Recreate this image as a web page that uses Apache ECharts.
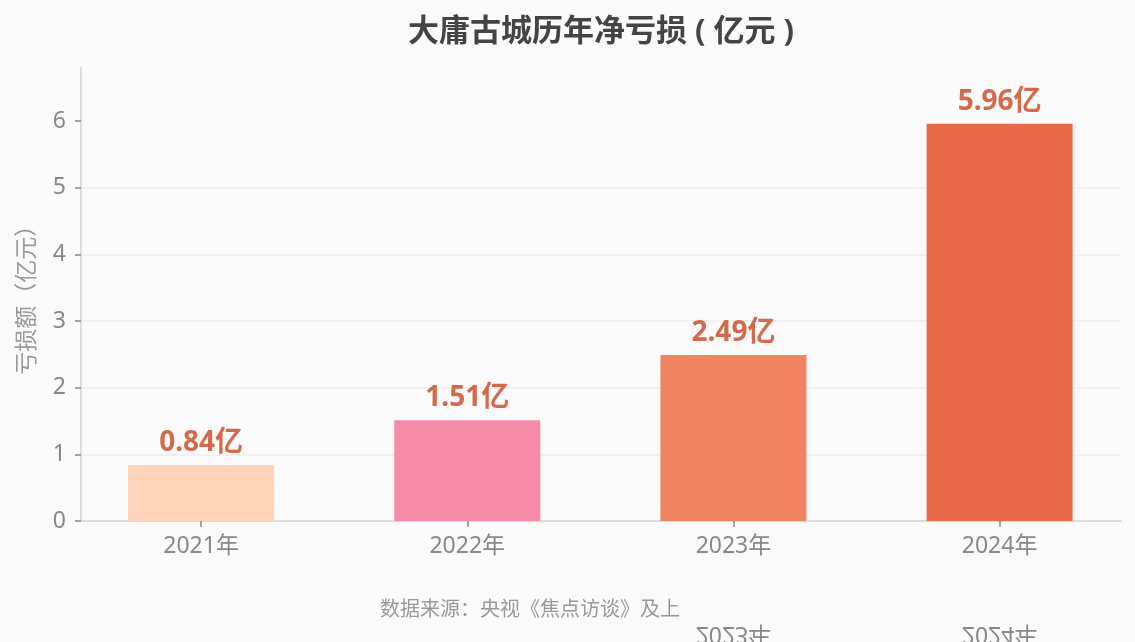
<!DOCTYPE html>
<html><head><meta charset="utf-8">
<script src="https://cdn.jsdelivr.net/npm/echarts@6/dist/echarts.min.js"></script>
<style>html,body{margin:0;padding:0;background:#fafafa}#c{width:1135px;height:642px}</style>
</head><body><div id="c"></div>
<script>
const categories = ['2021年', '2022年', '2023年', '2024年'];
const losses = [0.84, 1.51, 2.49, 5.96];
const barColors = ['#FED3B7', '#F58BA8', '#F08460', '#E86A48'];
const yTicks = [0, 1, 2, 3, 4, 5, 6];
const mirroredLabels = ['2023年', '2024年'];
const titleText = '大庸古城历年净亏损 ( 亿元 )';
const yName = '亏损额（亿元）';
const sourceText = '数据来源：央视《焦点访谈》及上';

const FONT = '"Noto Sans", "Noto Sans CJK SC", sans-serif';
const chart = echarts.init(document.getElementById('c'), null, { renderer: 'canvas' });

const option = {
  backgroundColor: '#fafafa',
  textStyle: { fontFamily: FONT },
  title: {
    text: titleText, left: 596, top: 12, textAlign: 'center',
    textStyle: { fontSize: 31, fontWeight: 'bold', color: '#444', fontFamily: FONT }
  },
  grid: [
    { left: 81, right: 14, top: 67.7, bottom: 121 },
    { left: 68, right: 2.3, top: 67.7, bottom: 121 }
  ],
  xAxis: [
    {
      type: 'category', gridIndex: 0, data: categories,
      axisLine: { show: true, lineStyle: { color: '#dcdcdc', width: 2 } },
      axisTick: { show: false }, axisLabel: { show: false }
    },
    {
      type: 'category', gridIndex: 1, data: categories,
      axisLine: { show: false },
      axisTick: { show: true, alignWithLabel: true, length: 6, lineStyle: { color: '#888', width: 1.5 } },
      axisLabel: { color: '#888', fontSize: 23, margin: 14, fontFamily: FONT }
    }
  ],
  yAxis: [
    {
      type: 'value', gridIndex: 0, min: 0, max: 6.8, interval: 1,
      name: yName, nameLocation: 'middle', nameGap: 42,
      nameTextStyle: { color: '#999', fontSize: 23, fontFamily: FONT },
      axisLine: { show: true, lineStyle: { color: '#dcdcdc', width: 2 } },
      axisTick: { show: true, length: 6, customValues: yTicks, lineStyle: { color: '#888', width: 1.5 } },
      axisLabel: { color: '#888', fontSize: 23, margin: 15, customValues: yTicks, fontFamily: FONT },
      splitLine: { show: true, showMaxLine: false, lineStyle: { color: '#ececec', width: 1.5 } }
    },
    {
      type: 'value', gridIndex: 1, min: 0, max: 6.8, interval: 1,
      axisLine: { show: false }, axisTick: { show: false },
      axisLabel: { show: false }, splitLine: { show: false }
    }
  ],
  series: [{
    type: 'bar', xAxisIndex: 1, yAxisIndex: 1,
    barWidth: 146,
    data: losses.map((v, i) => ({ value: v, itemStyle: { color: barColors[i] } })),
    label: {
      show: true, position: 'top', distance: 8,
      formatter: p => p.value + '亿',
      color: '#D26A4B', fontSize: 28, fontWeight: 'bold', fontFamily: FONT
    }
  }]
};
chart.setOption(option);

const graphics = [{
  type: 'text', left: 380, top: 600,
  style: { text: sourceText, fill: '#999', fontSize: 20, fontFamily: FONT }
}];
mirroredLabels.forEach(lbl => {
  const x = chart.convertToPixel({ xAxisIndex: 1 }, lbl);
  graphics.push({
    type: 'text', x: x, y: 634, scaleY: -1,
    style: { text: lbl, fill: '#888', fontSize: 23, fontFamily: FONT, align: 'center', verticalAlign: 'middle' }
  });
});
chart.setOption({ graphic: graphics });
</script>
</body></html>
